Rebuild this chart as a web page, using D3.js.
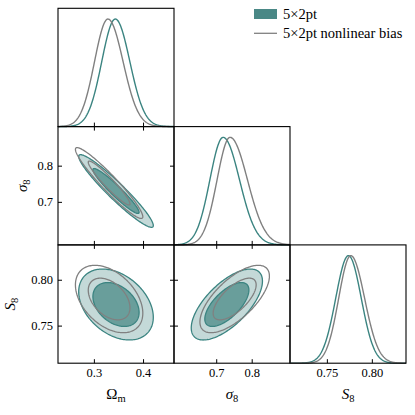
<!DOCTYPE html>
<html>
<head>
<meta charset="utf-8">
<script src="https://d3js.org/d3.v7.min.js"></script>
<style>
body { margin: 0; background: #fff; }
</style>
</head>
<body>
<svg width="415" height="415"></svg>
<script>
// The svg
var svg = d3.select("svg"),
    width = +svg.attr("width"),
    height = +svg.attr("height");

var serif = "'Liberation Serif', 'Times New Roman', 'DejaVu Serif', serif";

// parameters of the triangle plot
var labelMain = ["\u03a9", "\u03c3", "S"];
var labelSub = ["m", "8", "8"];
var labelItalic = [false, true, true];
var ranges = [[0.227, 0.463], [0.581, 0.908], [0.709, 0.838]];
var ticks = [[0.3, 0.4], [0.7, 0.8], [0.75, 0.80]];
var tickFormats = [".1f", ".1f", ".2f"];

// series
var seriesNames = ["5\u00d72pt", "5\u00d72pt nonlinear bias"];

// 2D contours: mean, sd and correlations of each chain (Om, s8, S8)
var means5x2 = [0.345, 0.730, 0.773];
var sds5x2 = [0.031, 0.041, 0.0158];
var corr5x2 = { "1,0": -0.95, "2,0": -0.36, "2,1": 0.66 };

var meansNl = [0.331, 0.752, 0.779];
var sdsNl = [0.028, 0.040, 0.015];
var corrNl = { "1,0": -0.95, "2,0": -0.42, "2,1": 0.68 };

// 1D marginals: peak and left / right widths
var peak5x2 = [0.3436, 0.7196, 0.774];
var sdLeft5x2 = [0.0275, 0.0374, 0.0141];
var sdRight5x2 = [0.0295, 0.046, 0.0142];

var peakNl = [0.3286, 0.739, 0.7766];
var sdLeftNl = [0.0272, 0.0365, 0.0134];
var sdRightNl = [0.0307, 0.049, 0.0153];

// 68% and 95% levels of a 2D gaussian
var levels = [2.448, 1.515];

// colours
var tealEdge = "#3b8481",
    tealDark = "#699e9b",
    tealLight = "#c4d9d8",
    tealLegend = "#4a8886",
    grey = "#808080";

// layout (window.top is taken, so marginTop)
var marginLeft = 58, marginTop = 8.3, pw = 116, ph = 118.3;
var n = 3;

var xScale = ranges.map(r => d3.scaleLinear().domain(r).range([0, pw]));
var yScale = ranges.map(r => d3.scaleLinear().domain(r).range([ph, 0]));
var yDens = d3.scaleLinear().domain([0, 1.1]).range([ph, 0]);

// gaussian ellipse for panel (row r, col c)
function ellipse(means, sds, corr, r, c, k) {
    var rho = corr[r + "," + c];
    return d3.range(0, 2 * Math.PI, Math.PI / 90).map(t => [
        means[c] + k * sds[c] * Math.cos(t),
        means[r] + k * sds[r] * (rho * Math.cos(t) + Math.sqrt(1 - rho * rho) * Math.sin(t))
    ]);
}

function marginal(i, peak, sl, sr) {
    var lo = ranges[i][0], hi = ranges[i][1];
    return d3.range(241).map(k => {
        var x = lo + k * (hi - lo) / 240;
        var s = x < peak[i] ? sl[i] : sr[i];
        return [x, Math.exp(-0.5 * Math.pow((x - peak[i]) / s, 2))];
    });
}

function styleAxis(g) {
    g.select(".domain").remove();
    g.selectAll(".tick line").attr("stroke", "#000").attr("stroke-width", 1);
    g.selectAll(".tick text")
        .attr("fill", "#000")
        .attr("font-family", serif)
        .attr("font-size", 12.5);
}

for (var r = 0; r < n; r++) {
    for (var c = 0; c <= r; c++) {

        var g = svg.append("g")
            .attr("transform", "translate(" + (marginLeft + c * pw) + "," + (marginTop + r * ph) + ")");

        var xs = xScale[c];

        if (r == c) {
            // 1D marginal
            var line1 = d3.line()
                .x(d => xs(d[0]))
                .y(d => yDens(d[1]));

            g.append("path")
                .attr("d", line1(marginal(c, peak5x2, sdLeft5x2, sdRight5x2)))
                .attr("fill", "none")
                .attr("stroke", tealEdge)
                .attr("stroke-width", 1.4);

            g.append("path")
                .attr("d", line1(marginal(c, peakNl, sdLeftNl, sdRightNl)))
                .attr("fill", "none")
                .attr("stroke", grey)
                .attr("stroke-width", 1.4);
        } else {
            var ys = yScale[r];
            var line2 = d3.line()
                .x(d => xs(d[0]))
                .y(d => ys(d[1]))
                .curve(d3.curveLinearClosed);

            // filled contours
            levels.forEach((k, li) => {
                g.append("path")
                    .attr("d", line2(ellipse(means5x2, sds5x2, corr5x2, r, c, k)))
                    .attr("fill", li == 0 ? tealLight : tealDark)
                    .attr("stroke", tealEdge)
                    .attr("stroke-width", 1.3);
            });

            // line contours
            levels.forEach(k => {
                g.append("path")
                    .attr("d", line2(ellipse(meansNl, sdsNl, corrNl, r, c, k)))
                    .attr("fill", "none")
                    .attr("stroke", grey)
                    .attr("stroke-width", 1.3);
            });

            // ticks on top, left and right
            g.append("g")
                .call(d3.axisTop(xs).tickValues(ticks[c]).tickSize(-4).tickFormat(""))
                .call(styleAxis);

            g.append("g")
                .call(d3.axisLeft(ys).tickValues(ticks[r]).tickSize(-4).tickPadding(5)
                    .tickFormat(c == 0 ? d3.format(tickFormats[r]) : ""))
                .call(styleAxis);

            g.append("g")
                .attr("transform", "translate(" + pw + ",0)")
                .call(d3.axisRight(ys).tickValues(ticks[r]).tickSize(-4).tickFormat(""))
                .call(styleAxis);
        }

        // bottom ticks
        g.append("g")
            .attr("transform", "translate(0," + ph + ")")
            .call(d3.axisBottom(xs).tickValues(ticks[c]).tickSize(-4).tickPadding(5)
                .tickFormat(r == n - 1 ? d3.format(tickFormats[c]) : ""))
            .call(styleAxis);

        // frame
        g.append("rect")
            .attr("width", pw)
            .attr("height", ph)
            .attr("fill", "none")
            .attr("stroke", "#000")
            .attr("stroke-width", 1.1);
    }
}

// axis labels
function addLabel(sel, i) {
    sel.append("tspan")
        .attr("font-style", labelItalic[i] ? "italic" : "normal")
        .text(labelMain[i]);
    sel.append("tspan")
        .attr("font-size", 10.5)
        .attr("dy", "0.3em")
        .text(labelSub[i]);
}

for (var i = 0; i < n; i++) {
    var xl = svg.append("text")
        .attr("x", marginLeft + i * pw + pw / 2)
        .attr("y", 399)
        .attr("text-anchor", "middle")
        .attr("font-family", serif)
        .attr("font-size", 15);
    addLabel(xl, i);
}

var yLabelX = [0, 27, 15];
for (var i = 1; i < n; i++) {
    var yl = svg.append("text")
        .attr("transform", "translate(" + yLabelX[i] + "," + (marginTop + i * ph + ph / 2) + ") rotate(-90)")
        .attr("text-anchor", "middle")
        .attr("font-family", serif)
        .attr("font-size", 15);
    addLabel(yl, i);
}

// legend
var legend = svg.append("g")
    .attr("transform", "translate(254,0)");

legend.append("rect")
    .attr("x", 0)
    .attr("y", 9)
    .attr("width", 23)
    .attr("height", 10)
    .attr("fill", tealLegend);

legend.append("line")
    .attr("x1", 0)
    .attr("x2", 23)
    .attr("y1", 33.3)
    .attr("y2", 33.3)
    .attr("stroke", grey)
    .attr("stroke-width", 1.3);

legend.selectAll("text.legend")
    .data(seriesNames)
    .enter()
    .append("text")
        .attr("class", "legend")
        .attr("x", 29)
        .attr("y", (d, i) => 19.3 + i * 18.2)
        .attr("font-family", serif)
        .attr("font-size", 14.5)
        .text(d => d);
</script>
</body>
</html>
